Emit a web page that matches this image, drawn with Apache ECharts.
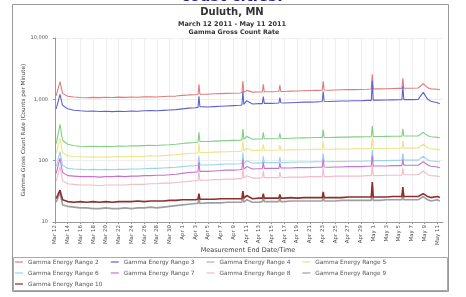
<!DOCTYPE html>
<html>
<head>
<meta charset="utf-8">
<script src="https://cdn.jsdelivr.net/npm/echarts@6/dist/echarts.min.js"></script>
<style>
  html, body { margin: 0; padding: 0; background: #fff; }
  #chart { width: 466px; height: 297px; }
</style>
</head>
<body>
<div id="chart"></div>
<script>
// x positions in days after Mar 12 2011 00:00
const days = [
  0.2, 0.8, 1.2, 2, 3, 4, 5, 6, 7, 8,
  9, 10, 11, 12, 13, 14, 15, 16, 17, 18,
  19, 20, 21, 22, 22.45, 22.6, 22.75, 23, 24, 25,
  26, 27, 28, 29, 29.35, 29.5, 29.65, 30.1, 31, 32,
  32.55, 32.7, 32.85, 34, 35.15, 35.3, 35.45, 36, 37, 38,
  39, 40, 41, 41.95, 42.1, 42.25, 43, 44, 45, 46,
  47, 48, 49, 49.65, 49.8, 49.95, 51, 52, 53, 54,
  54.45, 54.6, 54.75, 56, 57, 57.8, 58.5, 59, 60, 60.4
];

const labelDays = [0, 2, 4, 6, 8, 10, 12, 14, 16, 18, 20, 22, 24, 26, 28, 30,
  32, 34, 36, 38, 40, 42, 44, 46, 48, 50, 52, 54, 56, 58, 60];
const dateLabels = ["Mar 12", "Mar 14", "Mar 16", "Mar 18", "Mar 20", "Mar 22", "Mar 24",
  "Mar 26", "Mar 28", "Mar 30", "Apr 1", "Apr 3", "Apr 5", "Apr 7", "Apr 9", "Apr 11",
  "Apr 13", "Apr 15", "Apr 17", "Apr 19", "Apr 21", "Apr 23", "Apr 25", "Apr 27", "Apr 29",
  "May 1", "May 3", "May 5", "May 7", "May 9", "May 11"];

const names = ["Gamma Energy Range 2", "Gamma Energy Range 3", "Gamma Energy Range 4",
  "Gamma Energy Range 5", "Gamma Energy Range 6", "Gamma Energy Range 7",
  "Gamma Energy Range 8", "Gamma Energy Range 9", "Gamma Energy Range 10"];
const colors = ["#e27c7c", "#6262cc", "#82d082", "#eee488", "#98d4ee",
  "#c474cf", "#f2bcc8", "#9e9e9e", "#8e2e2e"];

const range2 = [
  1150, 1950, 1250, 1120, 1090, 1070, 1060, 1075, 1065, 1080,
  1070, 1085, 1075, 1090, 1080, 1095, 1100, 1090, 1110, 1120,
  1130, 1160, 1180, 1190, 1200, 1750, 1210, 1200, 1210, 1230,
  1240, 1250, 1260, 1270, 1280, 1980, 1300, 1400, 1310, 1320,
  1320, 1750, 1330, 1330, 1340, 1700, 1350, 1340, 1360, 1370,
  1380, 1390, 1400, 1410, 1970, 1420, 1410, 1420, 1430, 1440,
  1440, 1450, 1460, 1470, 2550, 1480, 1480, 1490, 1500, 1510,
  1510, 2200, 1520, 1520, 1530, 1800, 1540, 1480, 1460, 1440
];
const range3 = [
  700, 1200, 800, 700, 665, 650, 640, 645, 635, 640,
  630, 640, 635, 645, 640, 650, 655, 650, 660, 670,
  680, 700, 720, 730, 740, 1120, 760, 740, 750, 760,
  770, 780, 790, 800, 810, 1350, 830, 950, 840, 850,
  850, 1110, 860, 860, 870, 1070, 880, 870, 880, 890,
  900, 900, 910, 920, 1340, 930, 920, 930, 940, 940,
  950, 950, 960, 960, 2000, 970, 970, 975, 980, 985,
  990, 1650, 990, 990, 1000, 1300, 1000, 930, 880, 850
];
const range4 = [
  190, 390, 215, 185, 175, 172, 170, 172, 170, 172,
  170, 173, 172, 175, 174, 176, 178, 177, 180, 182,
  185, 190, 195, 198, 200, 290, 205, 202, 205, 208,
  210, 212, 214, 216, 218, 330, 222, 250, 224, 226,
  226, 290, 228, 228, 230, 280, 232, 230, 232, 234,
  235, 236, 238, 238, 320, 240, 238, 240, 242, 242,
  244, 244, 245, 246, 370, 248, 248, 249, 250, 250,
  251, 330, 252, 252, 253, 290, 254, 245, 240, 236
];
const range5 = [
  130, 230, 135, 120, 117, 116, 115, 116, 115, 116,
  115, 117, 116, 118, 117, 118, 120, 119, 121, 123,
  125, 128, 131, 133, 134, 190, 136, 135, 136, 138,
  139, 140, 141, 142, 143, 210, 145, 160, 146, 147,
  147, 185, 148, 148, 149, 180, 150, 149, 150, 151,
  151, 152, 153, 153, 205, 154, 153, 154, 155, 155,
  156, 156, 157, 157, 240, 158, 158, 158, 159, 159,
  160, 210, 160, 160, 161, 185, 161, 156, 153, 150
];
const range6 = [
  80, 140, 84, 75, 73, 72, 71, 72, 71, 72,
  71, 72, 72, 73, 73, 74, 75, 75, 76, 77,
  78, 80, 82, 83, 84, 120, 85, 84, 85, 86,
  87, 88, 88, 89, 90, 135, 91, 100, 91, 92,
  92, 118, 93, 93, 93, 115, 94, 93, 94, 95,
  95, 95, 96, 96, 130, 97, 96, 97, 97, 98,
  98, 98, 99, 99, 150, 100, 100, 100, 101, 101,
  101, 130, 102, 102, 102, 118, 103, 99, 97, 95
];
const range7 = [
  62, 110, 64, 57, 56, 55, 55, 55, 54, 55,
  55, 56, 55, 56, 56, 57, 57, 58, 58, 59,
  60, 62, 64, 65, 66, 95, 67, 66, 67, 68,
  69, 70, 70, 71, 72, 105, 73, 80, 73, 74,
  74, 95, 75, 75, 75, 92, 76, 76, 76, 77,
  77, 77, 78, 78, 105, 79, 78, 79, 79, 80,
  80, 80, 81, 81, 120, 82, 82, 82, 83, 83,
  83, 105, 84, 84, 84, 96, 85, 81, 79, 77
];
const range8 = [
  46, 80, 47, 42, 41, 40, 40, 40, 39, 40,
  40, 40, 40, 41, 41, 41, 42, 42, 43, 43,
  44, 45, 46, 47, 47, 68, 48, 48, 48, 49,
  49, 50, 50, 51, 51, 75, 52, 57, 52, 52,
  53, 68, 53, 53, 53, 65, 54, 53, 54, 54,
  54, 55, 55, 55, 75, 55, 55, 56, 56, 56,
  56, 56, 57, 57, 85, 57, 57, 58, 58, 58,
  58, 75, 59, 59, 59, 68, 59, 57, 56, 55
];
const range9 = [
  21, 30, 19, 18, 17.5, 17, 17, 16.5, 16.5, 17,
  16.5, 16.5, 17, 16.5, 17, 17, 17.5, 17, 17.5, 18,
  18.5, 19, 19.5, 20, 20, 26, 20, 20, 20.5, 20.5,
  20.5, 21, 21, 21, 21, 28, 21, 23, 21, 21,
  21.5, 26, 21.5, 21.5, 21.5, 25, 21.5, 21.5, 22, 22,
  22, 22, 22, 22, 27, 22, 22, 22, 22.5, 22.5,
  22.5, 22.5, 22.5, 22.5, 38, 22.5, 22.5, 23, 23, 23,
  23, 32, 23, 23, 23, 26, 23, 22, 23, 22
];
const range10 = [
  24, 33, 23, 21.5, 21, 21.5, 21, 21.5, 21, 21.5,
  21, 21.5, 21.5, 21.5, 22, 21.5, 22, 22, 22, 22.5,
  22.5, 23, 23, 23, 23.5, 29, 23.5, 23.5, 23.5, 23.5,
  24, 24, 24, 24, 24, 32, 24.5, 27, 24, 24.5,
  24.5, 29, 24.5, 24.5, 24.5, 28, 24.5, 24.5, 25, 24.5,
  25, 25, 25, 25, 31, 25, 25, 25, 25, 25.5,
  25.5, 25.5, 25.5, 25.5, 45, 25.5, 25.5, 25.5, 26, 26,
  26, 37, 26, 26, 26, 29, 26, 25, 26, 25
];

const allValues = [range2, range3, range4, range5, range6, range7, range8, range9, range10];
const font = "DejaVu Sans";

let chart = echarts.init(document.getElementById("chart"));

let series = names.map(function (name, k) {
  return {
    name: name,
    type: "line",
    symbol: "none",
    color: colors[k],
    lineStyle: { width: k >= 7 ? 1.6 : 1.1 },
    data: days.map(function (d, i) { return [d, allValues[k][i]]; }),
  };
});

function legendRow(items, top) {
  return {
    data: items,
    left: 15,
    top: top,
    padding: 0,
    itemGap: 12,
    itemWidth: 8,
    itemHeight: 1.2,
    icon: "rect",
    textStyle: { fontSize: 5.8, color: "#555", fontFamily: font },
  };
}

let options = {
  animation: false,
  backgroundColor: "#fff",
  grid: { left: 53, right: 23, top: 38, bottom: 75 },
  legend: [
    legendRow(names.slice(0, 4), 259),
    legendRow(names.slice(4, 8), 270),
    legendRow(names.slice(8), 281),
  ],
  xAxis: {
    type: "value",
    min: -0.3,
    max: 60.9,
    name: "Measurement End Date/Time",
    nameLocation: "middle",
    nameGap: 25,
    nameMoveOverlap: false,
    nameTextStyle: { fontSize: 6.5, color: "#444", fontFamily: font },
    axisLine: { lineStyle: { color: "#999" } },
    axisTick: { customValues: labelDays, length: 2, lineStyle: { color: "#999" } },
    axisLabel: {
      customValues: labelDays,
      rotate: 90,
      margin: 3,
      fontSize: 5.5,
      color: "#555",
      fontFamily: font,
      formatter: function (v) { return dateLabels[labelDays.indexOf(v)]; },
    },
    splitLine: { show: true, lineStyle: { color: "#eeeeee" } },
  },
  yAxis: {
    type: "log",
    logBase: 10,
    min: 10,
    max: 10000,
    name: "Gamma Gross Count Rate (Counts per Minute)",
    nameLocation: "middle",
    nameGap: 26,
    nameMoveOverlap: false,
    nameTextStyle: { fontSize: 5.7, color: "#444", fontFamily: font },
    axisLine: { show: true, lineStyle: { color: "#999" } },
    axisTick: { show: true, length: 2, lineStyle: { color: "#999" } },
    axisLabel: {
      fontSize: 5,
      color: "#555",
      margin: 5,
      fontFamily: font,
      formatter: function (v) { return v.toLocaleString("en-US"); },
    },
    splitLine: { lineStyle: { color: "#eeeeee" } },
  },
  graphic: [
    {
      type: "rect", z: -1,
      shape: { x: 12.5, y: 4.5, width: 436, height: 287 },
      style: { fill: "none", stroke: "#999", lineWidth: 1 },
    },
    {
      type: "rect",
      shape: { x: 13.5, y: 257.5, width: 434, height: 33 },
      style: { fill: "none", stroke: "#aaa", lineWidth: 1 },
    },
    {
      type: "text", x: 232, y: 5,
      style: { text: "coast cities:", fill: "#1c1c8f", font: "bold 15px " + font, textAlign: "center", textVerticalAlign: "bottom" },
    },
    {
      type: "text", x: 232, y: 12,
      style: { text: "Duluth, MN", fill: "#333", font: "bold 10px " + font, textAlign: "center", textVerticalAlign: "middle" },
    },
    {
      type: "text", x: 232, y: 24.5,
      style: { text: "March 12 2011 - May 11 2011", fill: "#333", font: "bold 6.5px " + font, textAlign: "center", textVerticalAlign: "middle" },
    },
    {
      type: "text", x: 234, y: 32.5,
      style: { text: "Gamma Gross Count Rate", fill: "#333", font: "bold 6.3px " + font, textAlign: "center", textVerticalAlign: "middle" },
    },
  ],
  series: series,
};

chart.setOption(options);
</script>
</body>
</html>
